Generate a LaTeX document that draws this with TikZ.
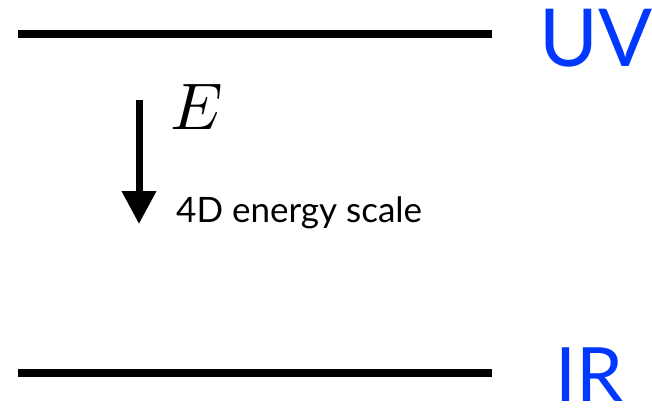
\documentclass[tikz,border=0pt]{standalone}
\usepackage{fontspec}
\setmainfont{Lato}
\usetikzlibrary{arrows.meta}
\definecolor{uvblue}{RGB}{0,56,255}
\begin{document}
\begin{tikzpicture}[x=1pt,y=-1pt,
  level/.style={line width=8pt},
  lbl/.style={text=uvblue,inner sep=0pt,anchor=base west}]
\useasboundingbox (0,0) rectangle (652,409);
\coordinate (uvL) at (18,34);
\coordinate (uvR) at (492,34);
\coordinate (irL) at (18,373);
\coordinate (irR) at (492,373);
\draw[level] (uvL) -- (uvR);
\draw[level] (irL) -- (irR);
\node[lbl,font=\fontsize{80}{80}\selectfont] (uv) at (539,67) {UV};
\node[lbl,font=\fontsize{75}{75}\selectfont] (ir) at (555,401) {IR};
\coordinate (aT) at (139,100);
\coordinate (aB) at (139,224);
\draw[line width=7pt,-{Triangle[width=33pt,length=33pt]}] (aT) -- (aB);
\node[inner sep=0pt,anchor=base west] (E) at (170,129) {\scalebox{6.6}{$E$}};
\node[inner sep=0pt,anchor=base west,font=\fontsize{35}{35}\selectfont] (scale) at (176,222) {4D energy scale};
\end{tikzpicture}
\end{document}
